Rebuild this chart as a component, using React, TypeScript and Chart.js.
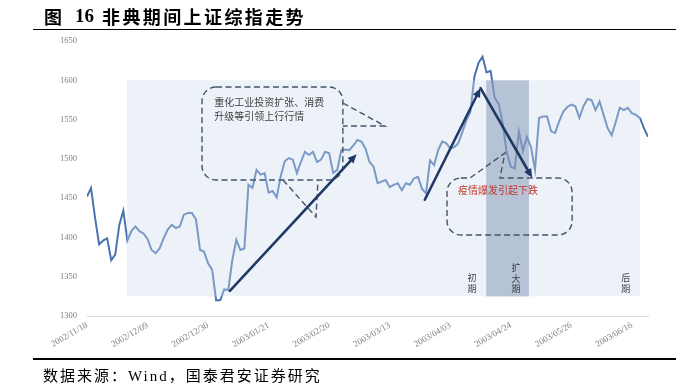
import React, { useEffect, useRef } from 'react';
import { Chart, registerables } from 'chart.js';

Chart.register(...registerables);

// X tick labels: one label every 15 trading days
const tickLabels = [
  '2002/11/18', '2002/12/09', '2002/12/30', '2003/01/21', '2003/02/20',
  '2003/03/13', '2003/04/03', '2003/04/24', '2003/05/26', '2003/06/16',
];
const tickStep = 15;

// Shanghai Composite daily close (trading-day index 0..139)
const indexValues = [
  1452, 1463, 1425, 1391, 1396, 1399, 1371, 1378, 1416, 1434,
  1396, 1408, 1414, 1408, 1405, 1398, 1384, 1380, 1386, 1399,
  1410, 1416, 1412, 1414, 1429, 1431, 1431, 1423, 1384, 1382,
  1367, 1359, 1320, 1320, 1334, 1333, 1371, 1397, 1384, 1386,
  1467, 1463, 1486, 1480, 1482, 1457, 1459, 1451, 1478, 1497,
  1501, 1499, 1482, 1496, 1509, 1505, 1509, 1496, 1499, 1509,
  1507, 1482, 1486, 1511, 1512, 1511, 1517, 1524, 1522, 1513,
  1496, 1490, 1469, 1471, 1473, 1464, 1467, 1469, 1460, 1469,
  1467, 1475, 1477, 1462, 1456, 1498, 1492, 1511, 1522, 1520,
  1513, 1515, 1520, 1534, 1549, 1560, 1605, 1622, 1630, 1610,
  1612, 1578, 1570, 1545, 1508, 1490, 1488, 1535, 1510, 1528,
  1515, 1486, 1552, 1554, 1554, 1535, 1533, 1548, 1560, 1566,
  1569, 1567, 1552, 1567, 1576, 1575, 1562, 1573, 1556, 1539,
  1530, 1547, 1565, 1562, 1565, 1558, 1556, 1552, 1539, 1528,
];

const yMin = 1300;
const yMax = 1650;
const yStep = 50;

// Annotation geometry in data units (x = trading-day index, y = index level)
const lightBand = { x0: 9.9, x1: 137, y0: 1325, y1: 1600 };
const darkBand = { x0: 98.9, x1: 109.5, y0: 1325, y1: 1600 };
const arrows = [
  { from: [35.4, 1332], to: [66.8, 1506] },
  { from: [83.7, 1448], to: [97.5, 1590] },
  { from: [97.5, 1590], to: [110.3, 1476] },
];
const callout1Lines = ['重化工业投资扩张、消费', '升级等引领上行行情'];
const callout2Text = '疫情爆发引起下跌';
const phaseLabels = [
  { x: 95.4, y: 1348.4, chars: ['初', '期'] },
  { x: 106.3, y: 1361.1, chars: ['扩', '大', '期'] },
  { x: 133.5, y: 1348.4, chars: ['后', '期'] },
];

const CJK = '"Noto Sans CJK SC", "Noto Sans", sans-serif';

const overlayPlugin = {
  id: 'overlay',
  afterDatasetsDraw(chart: any) {
    const { ctx, scales } = chart;
    const xs = scales.x;
    const ys = scales.y;
    const px = (v: number) => xs.getPixelForValue(v);
    const py = (v: number) => ys.getPixelForValue(v);
    ctx.save();

    const band = (b: any, color: string) => {
      ctx.fillStyle = color;
      const l = px(b.x0), r = px(b.x1), t = py(b.y1), bt = py(b.y0);
      ctx.fillRect(l, t, r - l, bt - t);
    };
    band(lightBand, 'rgba(206,220,239,0.37)');
    band(darkBand, 'rgba(120,140,175,0.47)');

    // callouts
    ctx.strokeStyle = '#44546a';
    ctx.lineWidth = 1.4;
    ctx.setLineDash([6, 3.5]);
    const r = 14;
    // callout 1
    {
      const L = px(28.5), R = px(63.4), T = py(1591.5), B = py(1473.1);
      ctx.beginPath();
      ctx.moveTo(L + r, T);
      ctx.lineTo(R - r, T);
      ctx.arcTo(R, T, R, T + r, r);
      ctx.lineTo(R, B - r);
      ctx.arcTo(R, B, R - r, B, r);
      ctx.lineTo(L + r, B);
      ctx.arcTo(L, B, L, B - r, r);
      ctx.lineTo(L, T + r);
      ctx.arcTo(L, T, L + r, T, r);
      ctx.closePath();
      ctx.stroke();
      ctx.beginPath();
      ctx.moveTo(R, py(1571.1));
      ctx.lineTo(px(73.84), py(1541.8));
      ctx.lineTo(R, py(1541.8));
      ctx.stroke();
      ctx.beginPath();
      ctx.moveTo(px(48.56), B);
      ctx.lineTo(px(56.74), py(1426));
      ctx.lineTo(px(57.23), B);
      ctx.stroke();
    }
    // callout 2 (wedge on the top edge)
    {
      const L = px(89.2), R = px(120.2), T = py(1475.6), B = py(1403.1);
      ctx.beginPath();
      ctx.moveTo(L + r, T);
      ctx.lineTo(px(94.9), T);
      ctx.lineTo(px(103.57), py(1507.5));
      ctx.lineTo(px(102.3), T);
      ctx.lineTo(R - r, T);
      ctx.arcTo(R, T, R, T + r, r);
      ctx.lineTo(R, B - r);
      ctx.arcTo(R, B, R - r, B, r);
      ctx.lineTo(L + r, B);
      ctx.arcTo(L, B, L, B - r, r);
      ctx.lineTo(L, T + r);
      ctx.arcTo(L, T, L + r, T, r);
      ctx.closePath();
      ctx.stroke();
    }
    ctx.setLineDash([]);

    // arrows
    ctx.strokeStyle = '#1f3864';
    ctx.fillStyle = '#1f3864';
    ctx.lineWidth = 2.6;
    ctx.lineCap = 'round';
    for (const a of arrows) {
      const x0 = px(a.from[0]), y0 = py(a.from[1]);
      const x1 = px(a.to[0]), y1 = py(a.to[1]);
      const ang = Math.atan2(y1 - y0, x1 - x0);
      const hl = 9, hw = 4;
      ctx.beginPath();
      ctx.moveTo(x0, y0);
      ctx.lineTo(x1 - Math.cos(ang) * hl * 0.7, y1 - Math.sin(ang) * hl * 0.7);
      ctx.stroke();
      ctx.beginPath();
      ctx.moveTo(x1, y1);
      ctx.lineTo(x1 - Math.cos(ang) * hl - Math.sin(ang) * hw, y1 - Math.sin(ang) * hl + Math.cos(ang) * hw);
      ctx.lineTo(x1 - Math.cos(ang) * hl + Math.sin(ang) * hw, y1 - Math.sin(ang) * hl - Math.cos(ang) * hw);
      ctx.closePath();
      ctx.fill();
    }

    // texts
    ctx.textBaseline = 'middle';
    ctx.textAlign = 'left';
    ctx.font = `10px ${CJK}`;
    ctx.fillStyle = '#404040';
    ctx.fillText(callout1Lines[0], px(31.5), py(1572.4));
    ctx.fillText(callout1Lines[1], px(31.5), py(1554.5));
    ctx.fillStyle = '#c0392b';
    ctx.fillText(callout2Text, px(91.9), py(1460.4));

    ctx.fillStyle = '#404040';
    ctx.font = `9px ${CJK}`;
    ctx.textAlign = 'center';
    for (const p of phaseLabels) {
      p.chars.forEach((c, i) => {
        ctx.fillText(c, px(p.x), py(p.y) + i * 10.5);
      });
    }
    ctx.restore();
  },
};

export default function App() {
  const ref = useRef<HTMLCanvasElement | null>(null);
  useEffect(() => {
    if (!ref.current) return;
    const points = indexValues.map((v, i) => ({ x: i, y: v }));
    const chart = new Chart(ref.current, {
      type: 'line',
      data: {
        datasets: [
          {
            data: points,
            borderColor: 'rgb(74,115,175)',
            borderWidth: 2,
            pointRadius: 0,
            tension: 0,
            fill: false,
          },
        ],
      },
      options: {
        animation: false,
        responsive: false,
        layout: { padding: { top: 41, right: 48, left: 0, bottom: 0 } },
        plugins: {
          legend: { display: false },
          tooltip: { enabled: false },
          title: { display: false },
        },
        scales: {
          x: {
            type: 'linear',
            min: 0,
            max: indexValues.length - 1,
            afterFit: (s: any) => {
              s.height = 71;
            },
            grid: { display: false, drawTicks: false },
            border: { display: true, color: '#d9d9d9', width: 1 },
            ticks: {
              stepSize: tickStep,
              includeBounds: false,
              autoSkip: false,
              minRotation: 30,
              maxRotation: 30,
              padding: 4,
              color: '#7f7f7f',
              font: { family: '"Liberation Serif", serif', size: 9 },
              callback: (v: any) => {
                const n = Number(v);
                return n % tickStep === 0 ? tickLabels[n / tickStep] ?? '' : '';
              },
            },
          },
          y: {
            min: yMin,
            max: yMax,
            afterFit: (s: any) => {
              s.width = 87;
            },
            grid: { display: false, drawTicks: false },
            border: { display: false },
            ticks: {
              stepSize: yStep,
              padding: 10,
              color: '#7f7f7f',
              font: { family: '"Liberation Serif", serif', size: 8.5 },
              callback: (v: any) => String(v),
            },
          },
        },
      },
      plugins: [overlayPlugin],
    } as any);
    return () => chart.destroy();
  }, []);

  return (
    <div style={{ position: 'absolute', left: 0, top: 0, width: 696, height: 387, background: '#fff', overflow: 'hidden' }}>
      <canvas ref={ref} width={696} height={387} style={{ position: 'absolute', left: 0, top: 0, width: 696, height: 387 }} />
      <div style={{ position: 'absolute', left: 44, top: 6, fontFamily: CJK, fontWeight: 700, fontSize: 18, lineHeight: '20px', color: '#000', whiteSpace: 'nowrap' }}>图</div>
      <div style={{ position: 'absolute', left: 75, top: 5, fontFamily: '"Liberation Serif", serif', fontWeight: 700, fontSize: 19, lineHeight: '22px', color: '#000' }}>16</div>
      <div style={{ position: 'absolute', left: 102, top: 6, fontFamily: CJK, fontWeight: 700, fontSize: 18, lineHeight: '20px', letterSpacing: 2.4, color: '#000', whiteSpace: 'nowrap' }}>非典期间上证综指走势</div>
      <div style={{ position: 'absolute', left: 33, top: 28.5, width: 643, height: 1.5, background: '#000' }} />
      <div style={{ position: 'absolute', left: 33, top: 358, width: 643, height: 1.5, background: '#000' }} />
      <div style={{ position: 'absolute', left: 43, top: 365, fontSize: 15, lineHeight: '20px', letterSpacing: 2, color: '#000', whiteSpace: 'nowrap', fontFamily: CJK }}>
        数据来源：<span style={{ fontFamily: '"Liberation Serif", serif' }}>Wind</span>，国泰君安证券研究
      </div>
    </div>
  );
}
